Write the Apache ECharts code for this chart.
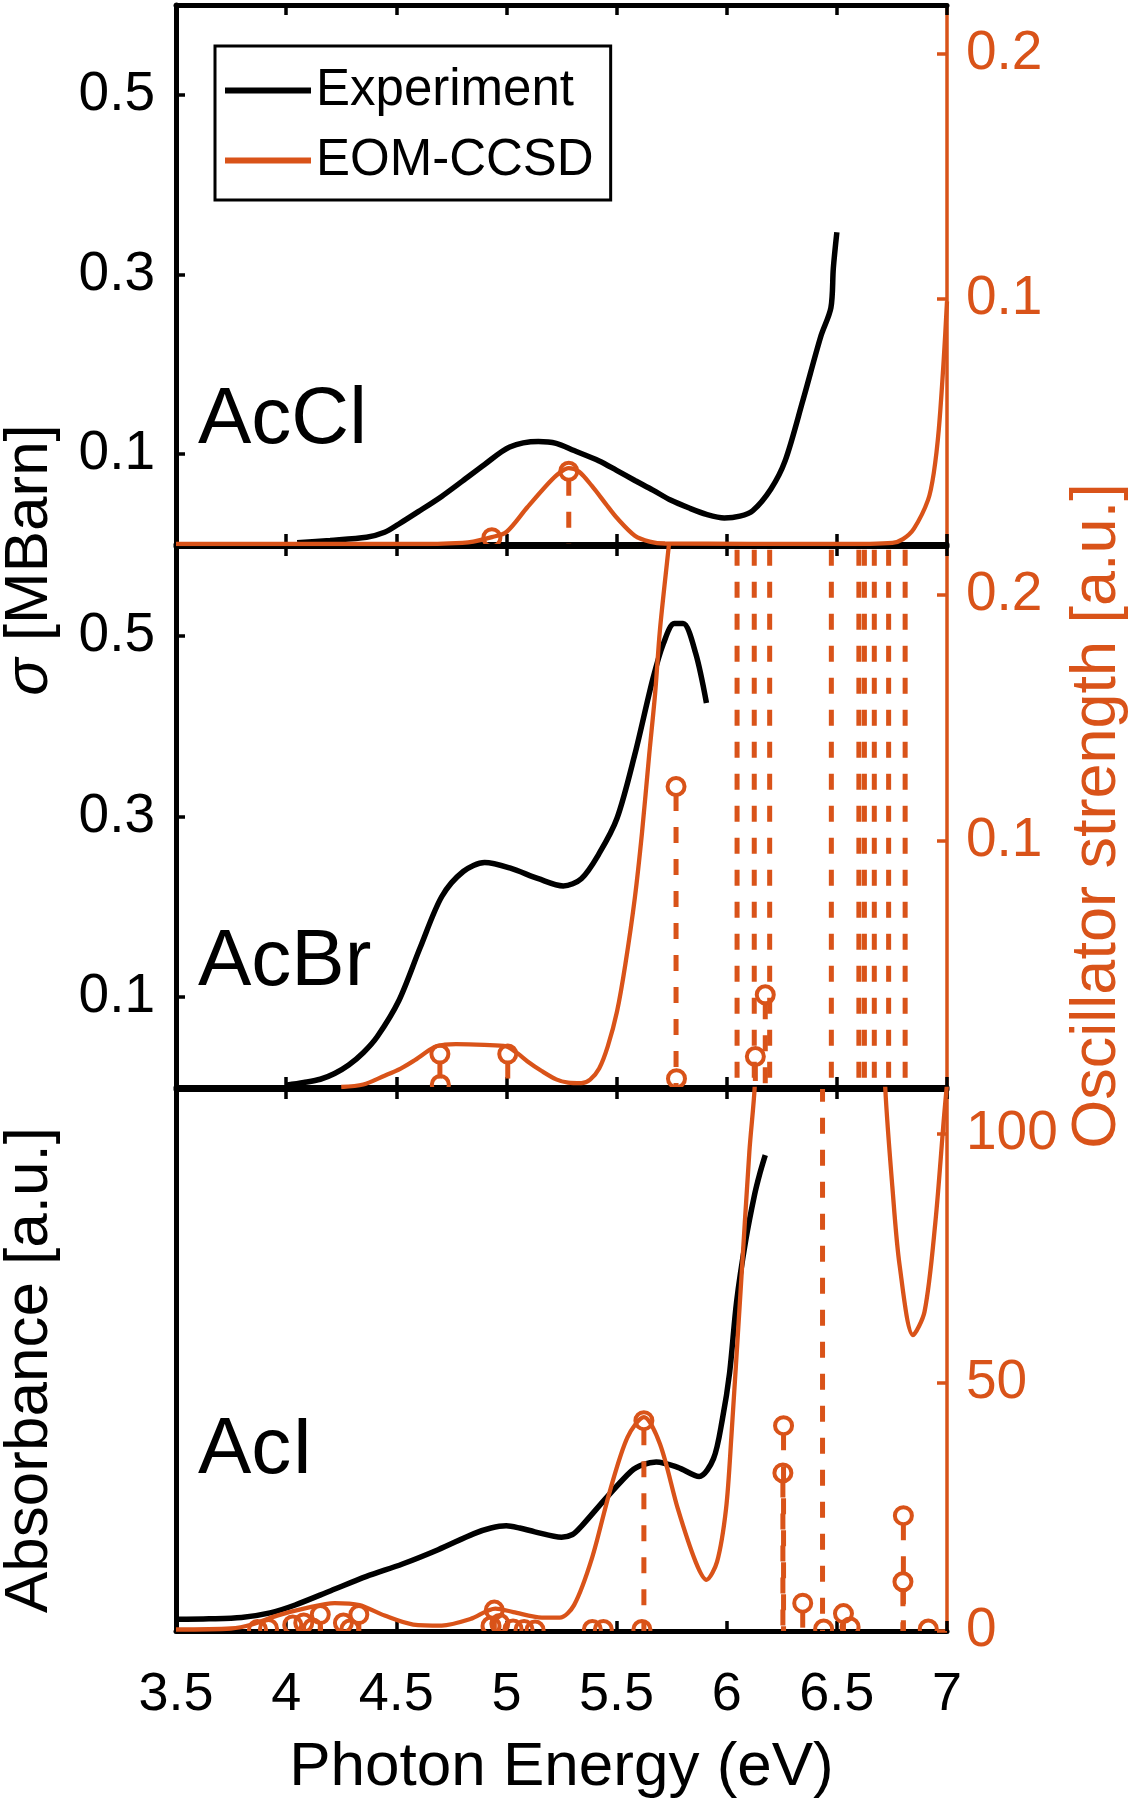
<!DOCTYPE html>
<html>
<head>
<meta charset="utf-8">
<script src="https://cdn.jsdelivr.net/npm/echarts@6/dist/echarts.min.js"></script>
<style>
html,body{margin:0;padding:0;background:#fff;}
#c{width:1133px;height:1800px;}
</style>
</head>
<body>
<div id="c"></div>
<script>
// ---------------- data ----------------
// AcCl
const acclExpE = [4.05, 4.2, 4.365, 4.447, 4.51, 4.6, 4.706, 4.8, 4.901, 5.015, 5.145, 5.226, 5.307, 5.421, 5.5, 5.583, 5.665, 5.745, 5.83, 5.908, 5.989, 6.06, 6.118, 6.2, 6.265, 6.346, 6.427, 6.473, 6.484, 6.5];
const acclExpV = [0.0015, 0.004, 0.0075, 0.013, 0.022, 0.036, 0.053, 0.07, 0.0886, 0.108, 0.114, 0.112, 0.104, 0.0925, 0.082, 0.0707, 0.06, 0.0489, 0.04, 0.033, 0.029, 0.031, 0.037, 0.061, 0.0925, 0.16, 0.231, 0.263, 0.307, 0.347];
const acclCalcE = [3.5, 4.6, 4.8, 4.85, 4.934, 5.0, 5.095, 5.193, 5.24, 5.283, 5.33, 5.388, 5.45, 5.502, 5.583, 5.65, 5.72, 6.5, 6.752, 6.8, 6.85, 6.914, 6.94, 6.963, 6.985, 7.0];
const acclCalcV = [0, 0, 0.0005, 0.001, 0.0028, 0.0049, 0.015, 0.025, 0.029, 0.031, 0.0295, 0.0237, 0.0165, 0.0106, 0.0034, 0.001, 0.0002, 0, 0.0005, 0.002, 0.0063, 0.018, 0.029, 0.047, 0.075, 0.099];
const acclStickE = [4.934, 5.283];
const acclStickV = [0.0026, 0.0297];

// AcBr
const acbrExpE = [4.0, 4.08, 4.155, 4.22, 4.284, 4.35, 4.414, 4.512, 4.609, 4.706, 4.804, 4.901, 5.015, 5.145, 5.258, 5.34, 5.421, 5.502, 5.583, 5.664, 5.713, 5.762, 5.802, 5.859, 5.908];
const acbrExpV = [0.002, 0.005, 0.0086, 0.015, 0.0244, 0.038, 0.056, 0.096, 0.155, 0.211, 0.239, 0.249, 0.243, 0.231, 0.223, 0.231, 0.259, 0.298, 0.369, 0.452, 0.492, 0.514, 0.514, 0.481, 0.426];
const acbrCalcE = [4.25, 4.35, 4.447, 4.52, 4.577, 4.674, 4.72, 4.771, 4.9, 4.999, 5.05, 5.096, 5.16, 5.226, 5.28, 5.34, 5.38, 5.421, 5.46, 5.502, 5.54, 5.583, 5.615, 5.648, 5.675, 5.697, 5.737, 5.76];
const acbrCalcV = [0, 0.001, 0.0046, 0.0075, 0.0105, 0.0163, 0.0172, 0.0174, 0.0171, 0.0165, 0.0137, 0.0104, 0.0065, 0.0031, 0.0018, 0.0016, 0.003, 0.0075, 0.0165, 0.0307, 0.05, 0.077, 0.103, 0.135, 0.16, 0.186, 0.22, 0.24];
const acbrStickE = [4.698, 4.70, 5.006, 5.77, 5.772, 6.047, 6.125, 6.13, 6.175, 6.195, 6.475, 6.60, 6.625, 6.67, 6.735, 6.81];
const acbrStickV = [0.0134, 0.001, 0.0134, 0.1222, 0.0034, 0.3, 0.3, 0.0124, 0.0375, 0.3, 0.3, 0.3, 0.3, 0.3, 0.3, 0.3];

// AcI
const aciExpE = [3.5, 3.65, 3.797, 3.927, 4.041, 4.203, 4.365, 4.528, 4.69, 4.853, 4.93, 4.999, 5.06, 5.129, 5.25, 5.3, 5.34, 5.453, 5.567, 5.62, 5.68, 5.778, 5.875, 5.94, 5.98, 6.013, 6.045, 6.086, 6.127, 6.151, 6.175];
const aciExpV = [0.0216, 0.0225, 0.0249, 0.0334, 0.048, 0.0743, 0.1007, 0.1236, 0.15, 0.1797, 0.19, 0.194, 0.19, 0.183, 0.173, 0.178, 0.193, 0.2456, 0.295, 0.307, 0.312, 0.302, 0.285, 0.318, 0.39, 0.476, 0.608, 0.72, 0.806, 0.845, 0.878];
const aciCalcE = [3.5, 3.75, 3.845, 3.959, 4.09, 4.22, 4.333, 4.447, 4.577, 4.706, 4.836, 4.95, 5.031, 5.161, 5.242, 5.307, 5.388, 5.47, 5.55, 5.624, 5.697, 5.778, 5.859, 5.908, 5.956, 5.997, 6.021, 6.062, 6.103, 6.127, 6.15, 6.17, 6.66, 6.70, 6.72, 6.752, 6.785, 6.846, 6.898, 6.947, 6.987, 7.0];
const aciCalcV = [0.3, 0.5, 1.3, 3.1, 4.6, 5.6, 5.2, 3.1, 1.3, 1.1, 2.4, 4.5, 3.8, 2.7, 2.7, 5.2, 14.6, 28.2, 39, 43, 37.6, 24.6, 13.9, 10.3, 13.9, 24.6, 39, 67.7, 96.5, 109.4, 135, 170, 170, 135, 109, 89.3, 73.5, 59.5, 64.2, 82.1, 103.7, 110];
const aciStickE = [3.87, 3.92, 4.03, 4.08, 4.12, 4.155, 4.26, 4.29, 4.33, 4.93, 4.945, 4.97, 5.03, 5.08, 5.13, 5.39, 5.44, 5.615, 5.624, 6.255, 6.258, 6.345, 6.435, 6.44, 6.53, 6.56, 6.80, 6.802, 6.915];
const aciStickV = [0.3, 0.5, 1.2, 1.6, 0.6, 3.3, 1.6, 0.4, 3.3, 1.0, 4.2, 1.5, 0.4, 0.3, 0.2, 0.3, 0.3, 0.3, 42.3, 31.8, 41.3, 5.6, 150, 0.4, 3.5, 0.8, 9.9, 23.2, 0.4];

// axes / labels
const panelNames = ['AcCl', 'AcBr', 'AcI'];
const leftTicks = [0.1, 0.3, 0.5];
const rightTicksTop = [0.1, 0.2];
const rightTicksBottom = [0, 50, 100];
const legendNames = ['Experiment', 'EOM-CCSD'];

// ---------------- chart ----------------
const OR = '#D95319';
const FF = "'Liberation Sans', Arial, Helvetica, sans-serif";
const zip = (a, b) => a.map((x, i) => [x, b[i]]);

const panels = [
  {top: 5, height: 539, expE: acclExpE, expV: acclExpV, calcE: acclCalcE, calcV: acclCalcV, stE: acclStickE, stV: acclStickV, lmax: 0.6, rmax: 0.22, rticks: rightTicksTop, lticks: leftTicks},
  {top: 546, height: 541, expE: acbrExpE, expV: acbrExpV, calcE: acbrCalcE, calcV: acbrCalcV, stE: acbrStickE, stV: acbrStickV, lmax: 0.6, rmax: 0.22, rticks: rightTicksTop, lticks: leftTicks},
  {top: 1089, height: 542, expE: aciExpE, expV: aciExpV, calcE: aciCalcE, calcV: aciCalcV, stE: aciStickE, stV: aciStickV, lmax: 1, rmax: 109, rticks: rightTicksBottom, lticks: null}
];

const grid = [], xAxis = [], yAxis = [], series = [];
const AXW = 5;

panels.forEach((p, i) => {
  grid.push({left: 176, width: 771, top: p.top, height: p.height, containLabel: false});
  const xBase = {
    type: 'value', gridIndex: i, min: 3.5, max: 7, interval: 0.5,
    splitLine: {show: false},
    axisLine: {show: true, onZero: false, lineStyle: {color: '#000', width: AXW}},
    axisTick: {show: true, inside: true, length: 10, lineStyle: {color: '#000', width: 3.5}},
  };
  xAxis.push(Object.assign({}, xBase, {
    position: 'bottom',
    axisLabel: {show: i === 2, margin: 37, fontSize: 54, color: '#000', fontFamily: FF},
    name: i === 2 ? 'Photon Energy (eV)' : '',
    nameLocation: 'middle', nameGap: 106,
    nameTextStyle: {fontSize: 62, color: '#000', fontFamily: FF}
  }));
  xAxis.push(Object.assign({}, xBase, {position: 'top', axisLabel: {show: false}}));

  yAxis.push({
    type: 'value', gridIndex: i, position: 'left', min: 0, max: p.lmax,
    splitLine: {show: false},
    axisLine: {show: true, onZero: false, lineStyle: {color: '#000', width: AXW}},
    axisTick: p.lticks ? {show: true, inside: true, length: 9, lineStyle: {color: '#000', width: 3.5}, customValues: p.lticks} : {show: false},
    axisLabel: p.lticks ? {show: true, margin: 21, fontSize: 55, color: '#000', fontFamily: FF, customValues: p.lticks, verticalAlign: 'middle'} : {show: false}
  });
  yAxis.push({
    type: 'value', gridIndex: i, position: 'right', min: 0, max: p.rmax,
    splitLine: {show: false},
    axisLine: {show: true, onZero: false, lineStyle: {color: OR, width: 3.5}},
    axisTick: {show: true, inside: true, length: 10, lineStyle: {color: OR, width: 3.5}, customValues: p.rticks},
    axisLabel: {show: true, margin: 19, fontSize: 55, color: OR, fontFamily: FF, customValues: p.rticks, verticalAlign: 'middle'}
  });

  series.push({
    name: 'Experiment', type: 'line', xAxisIndex: 2 * i, yAxisIndex: 2 * i,
    data: zip(p.expE, p.expV), showSymbol: false, symbol: 'none', smooth: 0.3,
    lineStyle: {color: '#000', width: 5.5}, itemStyle: {color: '#000'}, z: 2, clip: true
  });
  series.push({
    name: 'EOM-CCSD', type: 'line', xAxisIndex: 2 * i, yAxisIndex: 2 * i + 1,
    data: zip(p.calcE, p.calcV), showSymbol: false, symbol: 'none', smooth: 0.3,
    lineStyle: {color: OR, width: 4.3}, itemStyle: {color: OR}, z: 3, clip: true
  });
  series.push({
    name: 'sticks' + i, type: 'custom', xAxisIndex: 2 * i, yAxisIndex: 2 * i + 1,
    data: zip(p.stE, p.stV), clip: true, z: 4,
    renderItem: function (params, api) {
      const x = api.value(0), v = api.value(1);
      const top = api.coord([x, v]);
      const base = api.coord([x, 0]);
      const r = 8.5;
      const children = [];
      const y1 = top[1] + r;
      if (base[1] - y1 > 1) {
        children.push({type: 'line', shape: {x1: top[0], y1: y1, x2: base[0], y2: base[1]},
          style: {stroke: OR, lineWidth: 5, lineDash: [16, 16], fill: null}});
      }
      children.push({type: 'circle', shape: {cx: top[0], cy: top[1], r: r},
        style: {fill: 'none', stroke: OR, lineWidth: 4}});
      return {type: 'group', children: children};
    }
  });
});

const graphic = [];
const nameY = [421, 963, 1451];
panelNames.forEach((n, i) => {
  graphic.push({type: 'text', x: 198, y: nameY[i], z: 10,
    style: {text: n, fontSize: 80, fontFamily: FF, fill: '#000', align: 'left', verticalAlign: 'middle'}});
});
graphic.push({type: 'text', x: 30, y: 560, rotation: Math.PI / 2, z: 10,
  style: {text: '{i|σ} [MBarn]', fontSize: 62, fontFamily: FF, fill: '#000', align: 'center', verticalAlign: 'middle',
    rich: {i: {fontStyle: 'italic', fontSize: 62, fontFamily: FF, fill: '#000'}}}});
graphic.push({type: 'text', x: 30, y: 1370, rotation: Math.PI / 2, z: 10,
  style: {text: 'Absorbance [a.u.]', fontSize: 62, fontFamily: FF, fill: '#000', align: 'center', verticalAlign: 'middle'}});
graphic.push({type: 'text', x: 1098, y: 816, rotation: Math.PI / 2, z: 10,
  style: {text: 'Oscillator strength [a.u.]', fontSize: 63, fontFamily: FF, fill: OR, align: 'center', verticalAlign: 'middle'}});

const chart = echarts.init(document.getElementById('c'), null, {renderer: 'canvas'});
chart.setOption({
  animation: false,
  backgroundColor: '#fff',
  grid: grid,
  xAxis: xAxis,
  yAxis: yAxis,
  series: series,
  legend: {
    data: legendNames, orient: 'vertical', left: 215, top: 46,
    padding: [19, 17, 14, 10], itemGap: 19, itemWidth: 86, itemHeight: 6, icon: 'rect',
    borderColor: '#000', borderWidth: 3, backgroundColor: '#fff', borderRadius: 0,
    textStyle: {fontSize: 51, color: '#000', fontFamily: FF},
    selectedMode: false, z: 8
  },
  graphic: graphic
});
</script>
</body>
</html>
